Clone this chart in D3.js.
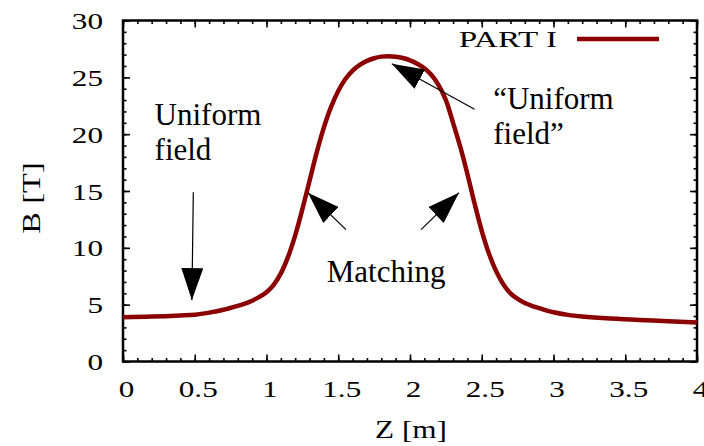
<!DOCTYPE html>
<html>
<head>
<meta charset="utf-8">
<script src="https://cdn.jsdelivr.net/npm/d3@7"></script>
<style>
  body { margin: 0; background: #fff; }
  text { font-family: "Liberation Serif", "Times New Roman", serif; fill: #000; }
</style>
</head>
<body>
<div id="graph"></div>
<script>
// Field profile along the axis
const zValues = [0, 0.2, 0.4, 0.5, 0.6, 0.7, 0.8, 0.85, 0.9, 0.95, 1.0, 1.05, 1.1, 1.15, 1.2, 1.25, 1.3, 1.35, 1.4, 1.45, 1.5, 1.55, 1.6, 1.65, 1.7, 1.75, 1.8, 1.85, 1.9, 1.95, 2.0, 2.05, 2.1, 2.15, 2.2, 2.25, 2.3, 2.35, 2.4, 2.45, 2.5, 2.55, 2.6, 2.65, 2.7, 2.75, 2.8, 2.85, 2.9, 2.95, 3.0, 3.1, 3.2, 3.4, 3.6, 3.8, 4.0]
const bValues = [3.9, 3.95, 4.05, 4.12, 4.3, 4.55, 4.9, 5.1, 5.35, 5.68, 6.1, 6.75, 7.75, 9.2, 11.1, 13.4, 15.9, 18.4, 20.6, 22.4, 23.8, 24.85, 25.6, 26.1, 26.45, 26.68, 26.82, 26.86, 26.82, 26.7, 26.5, 26.2, 25.8, 25.2, 24.3, 23.0, 21.0, 18.9, 16.5, 13.9, 11.5, 9.5, 7.95, 6.8, 6.0, 5.5, 5.15, 4.9, 4.7, 4.5, 4.33, 4.1, 3.96, 3.78, 3.65, 3.55, 3.43]
const seriesName = 'PART I'

// Axis ticks
const xTicks = [0, 0.5, 1, 1.5, 2, 2.5, 3, 3.5, 4]
const yTicks = [0, 5, 10, 15, 20, 25, 30]
const xLabel = 'Z [m]'
const yLabel = 'B [T]'

// Annotations in data units [z, B]
const arrowFrom = [[0.49, 14.9], [2.45, 22.2], [1.554, 11.6], [2.077, 11.6]]
const arrowTo = [[0.48, 5.4], [1.873, 26.2], [1.289, 14.85], [2.341, 14.85]]
const noteLines = [['Uniform', 'field'], ['\u201cUniform', 'field\u201d'], ['Matching']]
const notePos = [[0.22, 20.8], [2.58, 22.2], [1.42, 7.0]]

const width = 704, height = 446
const padLeft = 123, padRight = 697, padTop = 20.5, padBottom = 361.5
const stretch = 1.3   // gnuplot text looks wider than the font

const svg = d3.select('#graph').append('svg')
  .attr('width', width).attr('height', height)

const xScale = d3.scaleLinear().domain([0, 4]).range([padLeft, padRight])
const yScale = d3.scaleLinear().domain([0, 30]).range([padBottom, padTop])

const minorX = d3.range(0, 4.0001, 0.1).map(v => +v.toFixed(1))
const minorY = d3.range(0, 30.001, 1)

// ticks pointing inward on all four sides
function tickAxis(axis, scale, ticks, size, transform) {
  svg.append('g')
    .attr('transform', transform)
    .call(axis(scale).tickValues(ticks).tickSize(-size).tickSizeOuter(0).tickFormat(''))
    .call(g => g.select('.domain').remove())
    .call(g => g.selectAll('line').attr('stroke', '#000').attr('stroke-width', 1.6))
}
tickAxis(d3.axisBottom, xScale, minorX, 3.5, `translate(0,${padBottom})`)
tickAxis(d3.axisBottom, xScale, xTicks, 7, `translate(0,${padBottom})`)
tickAxis(d3.axisTop, xScale, minorX, 3.5, `translate(0,${padTop})`)
tickAxis(d3.axisTop, xScale, xTicks, 7, `translate(0,${padTop})`)
tickAxis(d3.axisLeft, yScale, minorY, 3.5, `translate(${padLeft},0)`)
tickAxis(d3.axisLeft, yScale, yTicks, 7, `translate(${padLeft},0)`)
tickAxis(d3.axisRight, yScale, minorY, 3.5, `translate(${padRight},0)`)
tickAxis(d3.axisRight, yScale, yTicks, 7, `translate(${padRight},0)`)

// tick labels
svg.append('g')
  .attr('transform', `translate(0,${padBottom})`)
  .call(d3.axisBottom(xScale).tickValues(xTicks).tickSize(0).tickFormat(d => String(d)))
  .call(g => g.select('.domain').remove())
  .call(g => g.selectAll('text')
    .attr('y', 36).attr('dy', null).attr('x', 3 / stretch)
    .attr('transform', `scale(${stretch},1)`)
    .style('font-size', '24px').style('font-family', '"Liberation Serif", serif'))

svg.append('g')
  .attr('transform', `translate(${padLeft},0)`)
  .call(d3.axisLeft(yScale).tickValues(yTicks).tickSize(0).tickFormat(d => String(d)))
  .call(g => g.select('.domain').remove())
  .call(g => g.selectAll('text')
    .attr('x', -20 / stretch).attr('dy', '0.34em')
    .attr('transform', `scale(${stretch},1)`)
    .style('font-size', '24px').style('font-family', '"Liberation Serif", serif'))

// frame
svg.append('rect')
  .attr('x', padLeft).attr('y', padTop)
  .attr('width', padRight - padLeft).attr('height', padBottom - padTop)
  .attr('fill', 'none').attr('stroke', '#000').attr('stroke-width', 2.5)

// curve
const line = d3.line()
  .x(d => xScale(d[0]))
  .y(d => yScale(d[1]))
  .curve(d3.curveCatmullRom.alpha(0.5))

svg.append('path')
  .datum(zValues.map((z, i) => [z, bValues[i]]))
  .attr('d', line)
  .attr('fill', 'none')
  .attr('stroke', '#8b0000')
  .attr('stroke-width', 4.5)
  .attr('stroke-linejoin', 'round')

// legend
const legend = svg.append('g').attr('transform', `translate(557,47)`)
legend.append('text')
  .attr('text-anchor', 'end')
  .attr('transform', `scale(1.38,1)`)
  .style('font-size', '24px')
  .text(seriesName)
legend.append('line')
  .attr('x1', 20).attr('x2', 102).attr('y1', -8).attr('y2', -8)
  .attr('stroke', '#8b0000').attr('stroke-width', 4.5)

// axis titles
svg.append('text')
  .attr('transform', `translate(411,438) scale(1.2,1)`)
  .attr('text-anchor', 'middle')
  .style('font-size', '26px')
  .text(xLabel)

svg.append('text')
  .attr('transform', `translate(40,198) rotate(-90) scale(1.25,1)`)
  .attr('text-anchor', 'middle')
  .style('font-size', '26px')
  .text(yLabel)

// arrows
svg.append('defs').append('marker')
  .attr('id', 'head')
  .attr('markerUnits', 'userSpaceOnUse')
  .attr('viewBox', '0 -11 32 22')
  .attr('markerWidth', 32).attr('markerHeight', 22)
  .attr('refX', 32).attr('refY', 0)
  .attr('orient', 'auto')
  .append('path')
  .attr('d', 'M0,-11L32,0L0,11Z')
  .attr('fill', '#000')

arrowFrom.forEach((f, i) => {
  svg.append('line')
    .attr('x1', xScale(f[0])).attr('y1', yScale(f[1]))
    .attr('x2', xScale(arrowTo[i][0])).attr('y2', yScale(arrowTo[i][1]))
    .attr('stroke', '#000').attr('stroke-width', 1.2)
    .attr('marker-end', 'url(#head)')
})

// annotation text
noteLines.forEach((lines, i) => {
  const t = svg.append('text')
    .attr('x', xScale(notePos[i][0]))
    .attr('y', yScale(notePos[i][1]))
    .style('font-size', '31px')
  lines.forEach((s, j) => {
    t.append('tspan')
      .attr('x', xScale(notePos[i][0]))
      .attr('dy', j == 0 ? 0 : 35)
      .text(s)
  })
})
</script>
</body>
</html>
